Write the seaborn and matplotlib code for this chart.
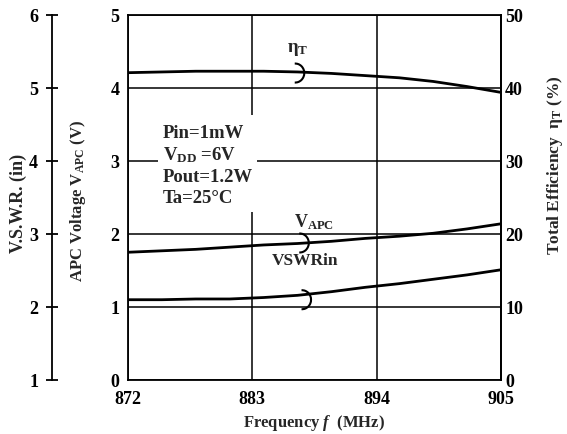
import matplotlib
matplotlib.use("Agg")
import matplotlib.pyplot as plt
import seaborn as sns
import pandas as pd
from matplotlib.patches import Arc, Rectangle

# ---- data ----
freq_mhz = [872, 875, 878, 881, 884, 887, 890, 893, 896, 899, 902, 905]
eta_total_pct = [42.1, 42.2, 42.3, 42.3, 42.3, 42.2, 42.0, 41.7, 41.4, 40.9, 40.2, 39.4]
v_apc = [1.75, 1.77, 1.79, 1.82, 1.85, 1.87, 1.90, 1.94, 1.97, 2.01, 2.07, 2.14]
vswr_in = [2.10, 2.10, 2.11, 2.11, 2.13, 2.16, 2.21, 2.27, 2.32, 2.38, 2.44, 2.51]

x_ticks = [872, 883, 894, 905]
apc_ticks = [0, 1, 2, 3, 4, 5]
eta_ticks = [0, 10, 20, 30, 40, 50]
vswr_ticks = [1, 2, 3, 4, 5, 6]
conditions = ["Pin=1mW", "V$_{\\mathregular{DD}}$ =6V", "Pout=1.2W", "Ta=25°C"]

df = pd.DataFrame({"freq": freq_mhz, "eta": eta_total_pct,
                   "vapc": v_apc, "vswr": vswr_in})

sns.set_theme(style="white")
plt.rcParams["font.family"] = ["Liberation Serif", "DejaVu Serif"]
plt.rcParams["font.weight"] = "bold"
plt.rcParams["mathtext.fontset"] = "custom"
plt.rcParams["mathtext.rm"] = "Liberation Serif:bold"
plt.rcParams["mathtext.it"] = "Liberation Serif:italic:bold"
plt.rcParams["mathtext.bf"] = "Liberation Serif:bold"
plt.rcParams["mathtext.default"] = "regular"

TICK_FS = 13
fig = plt.figure(figsize=(5.67, 4.34), dpi=100)
ax = fig.add_axes([0.2257, 0.1244, 0.6579, 0.841])
ax2 = ax.twinx()
ax3 = ax.twinx()

# main axes (APC voltage)
sns.lineplot(data=df, x="freq", y="vapc", ax=ax, color="black", lw=2)
ax.set_xlim(872, 905)
ax.set_ylim(0, 5)
ax.set_xticks(x_ticks)
ax.set_yticks(apc_ticks)
ax.grid(True, color="black", lw=1.1)
ax.tick_params(axis="both", length=0, labelsize=TICK_FS, colors="black")
ax.tick_params(axis="x", pad=8)
ax.tick_params(axis="y", pad=6)
for s in ax.spines.values():
    s.set_color("black")
    s.set_linewidth(1.3)
ax.set_ylabel("APC Voltage V$_{\\mathregular{APC}}$ (V)", fontsize=12, fontweight="bold")
ax.yaxis.set_label_coords(-0.106, 0.49)
ax.set_xlabel("Frequency $\\mathit{f}$  (MHz)", fontsize=12, fontweight="bold")
ax.xaxis.set_label_coords(0.5, -0.09)

# white box behind conditions
ax.add_patch(Rectangle((874.65, 2.30), 8.76, 1.33, facecolor="white",
                       edgecolor="none", zorder=2))
for i, t in enumerate(conditions):
    ax.text(875.1, [3.38, 3.08, 2.78, 2.48][i], t, fontsize=13.5,
            fontweight="bold", ha="left", va="center", zorder=3)

# efficiency axis (right)
sns.lineplot(data=df, x="freq", y="eta", ax=ax2, color="black", lw=2)
ax2.set_xlim(872, 905)
ax2.set_ylim(0, 50)
ax2.set_yticks(eta_ticks)
ax2.tick_params(axis="y", length=0, pad=3, labelsize=TICK_FS, colors="black")
ax2.set_xlabel("")
ax2.set_ylabel("Total Efficiency  η$_{\\mathregular{T}}$ (%)", fontsize=12.5,
               fontweight="bold")
ax2.yaxis.set_label_coords(1.118, 0.589)
for k, s in ax2.spines.items():
    s.set_visible(k == "right")
    s.set_color("black")
    s.set_linewidth(1.3)

# VSWR axis (outer left)
sns.lineplot(data=df, x="freq", y="vswr", ax=ax3, color="black", lw=2)
ax3.set_xlim(872, 905)
ax3.set_ylim(1, 6)
ax3.set_yticks(vswr_ticks)
ax3.set_xlabel("")
ax3.yaxis.set_ticks_position("left")
ax3.yaxis.set_label_position("left")
ax3.spines["left"].set_position(("axes", -0.2038))
for k, s in ax3.spines.items():
    s.set_visible(k == "left")
    s.set_color("black")
    s.set_linewidth(1.3)
ax3.tick_params(axis="y", direction="inout", length=8, width=1.3, pad=6,
                labelsize=TICK_FS, colors="black")
ax3.set_ylabel("V.S.W.R. (in)", fontsize=13, fontweight="bold")
ax3.yaxis.set_label_coords(-0.272, 0.485)

# curl markers and curve labels (in APC coordinates on main axes)
for cx, cy in [(886.8, 4.205), (887.2, 1.877), (887.4, 1.10)]:
    ax.add_patch(Arc((cx, cy), 1.59, 0.26, theta1=-110, theta2=110,
                     color="black", lw=1.5, zorder=4))
ax.text(887.0, 4.53, "η$_{\\mathregular{T}}$", fontsize=13.5, fontweight="bold",
        ha="center", va="center")
ax.text(888.5, 2.16, "V$_{\\mathregular{APC}}$", fontsize=13, fontweight="bold",
        ha="center", va="center")
ax.text(887.7, 1.63, "VSWRin", fontsize=12.5, fontweight="bold",
        ha="center", va="center")

fig.savefig("out.png", dpi=100)
